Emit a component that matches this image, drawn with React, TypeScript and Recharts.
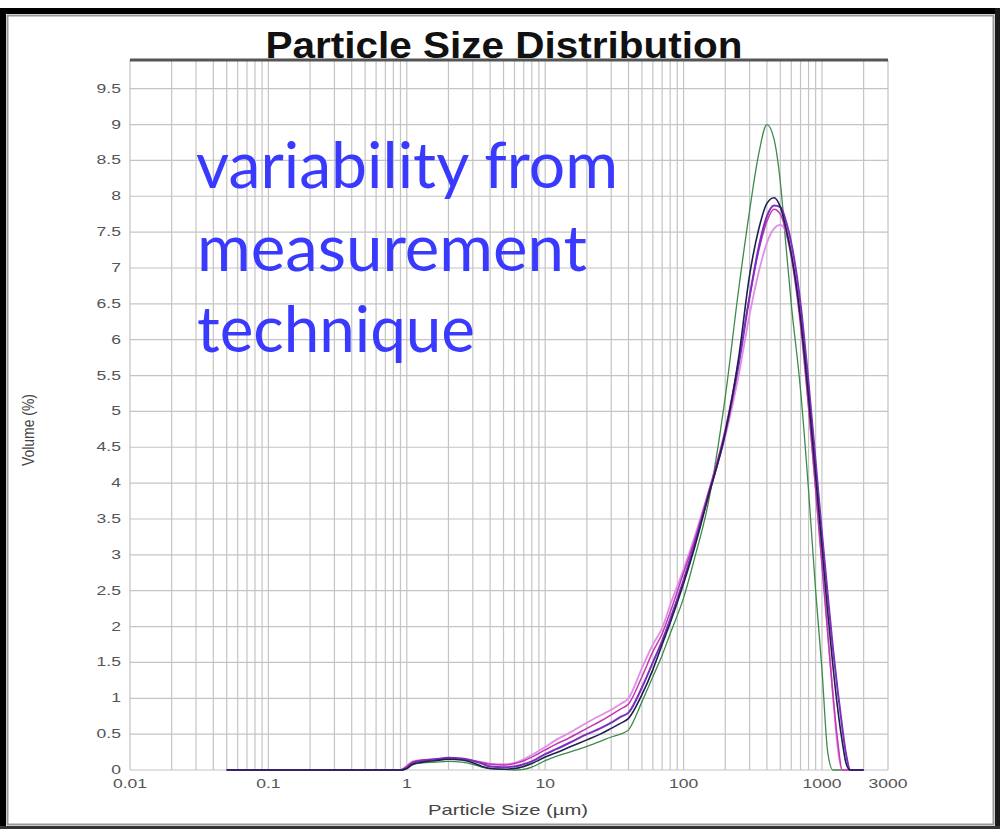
import React from "react";
import { LineChart, Line, XAxis, YAxis, CartesianGrid, ReferenceLine } from "recharts";

// particle size (µm) sample points
const sizes = [
  0.05, 0.1, 0.2, 0.5, 0.9, 1, 1.1, 1.3, 1.6, 2, 2.5, 3, 3.5, 4, 5, 6, 7, 8, 10, 12, 15, 20, 25, 30, 35, 40, 50, 60, 70,
  80, 100, 120, 150, 200, 250, 300, 350, 400, 450, 500, 550, 600, 700, 800, 900, 1000, 1100, 1200, 1300, 1400, 1500, 1600,
  1700, 2000,
];

// volume (%) per run
const runGreen = [
  0, 0, 0, 0, 0, 0.02, 0.07, 0.1, 0.11, 0.12, 0.11, 0.08, 0.04, 0.02, 0.01, 0, 0.01, 0.04, 0.13, 0.19, 0.25, 0.33, 0.4,
  0.46, 0.5, 0.56, 0.95, 1.3, 1.6, 1.9, 2.4, 2.95, 3.7, 5.2, 6.7, 7.8, 8.6, 9.0, 8.8, 8.2, 7.3, 6.5, 5.3, 3.9, 2.5, 1.4,
  0.25, 0, 0, 0, 0, 0, 0, 0,
];
const runPink = [
  0, 0, 0, 0, 0, 0.06, 0.12, 0.14, 0.15, 0.16, 0.15, 0.13, 0.11, 0.09, 0.08, 0.1, 0.15, 0.21, 0.32, 0.42, 0.52, 0.66,
  0.76, 0.84, 0.92, 1.0, 1.42, 1.75, 1.98, 2.3, 2.8, 3.25, 3.85, 4.65, 5.5, 6.35, 6.95, 7.35, 7.55, 7.6, 7.5, 7.2, 6.3,
  5.1, 3.95, 2.9, 1.95, 1.05, 0.3, 0, 0, 0, 0, 0,
];
const runMagenta = [
  0, 0, 0, 0, 0, 0.05, 0.11, 0.14, 0.15, 0.16, 0.15, 0.13, 0.1, 0.08, 0.07, 0.09, 0.13, 0.18, 0.28, 0.36, 0.45, 0.58,
  0.68, 0.77, 0.85, 0.92, 1.3, 1.65, 1.9, 2.2, 2.75, 3.2, 3.85, 4.75, 5.7, 6.6, 7.25, 7.65, 7.82, 7.75, 7.5, 7.15, 6.2,
  5.05, 3.9, 2.85, 1.9, 1.05, 0.4, 0, 0, 0, 0, 0,
];
const runPurple = [
  0, 0, 0, 0, 0, 0.03, 0.1, 0.13, 0.15, 0.17, 0.16, 0.13, 0.09, 0.05, 0.04, 0.05, 0.08, 0.12, 0.22, 0.29, 0.38, 0.5,
  0.58, 0.66, 0.74, 0.8, 1.15, 1.5, 1.8, 2.1, 2.65, 3.15, 3.8, 4.7, 5.65, 6.6, 7.3, 7.72, 7.87, 7.85, 7.65, 7.35, 6.5,
  5.4, 4.3, 3.3, 2.45, 1.7, 1.1, 0.6, 0.2, 0, 0, 0,
];
const runNavy = [
  0, 0, 0, 0, 0, 0.02, 0.08, 0.11, 0.13, 0.15, 0.14, 0.1, 0.05, 0.02, 0.01, 0.02, 0.05, 0.09, 0.18, 0.24, 0.32, 0.42,
  0.5, 0.58, 0.65, 0.72, 1.05, 1.4, 1.75, 2.05, 2.6, 3.1, 3.8, 4.7, 5.75, 6.9, 7.55, 7.9, 7.98, 7.85, 7.55, 7.2, 6.3,
  5.2, 4.1, 3.1, 2.2, 1.45, 0.85, 0.4, 0.08, 0, 0, 0,
];

const xLabels = [0.01, 0.1, 1, 10, 100, 1000, 3000];
const xGrid = [
  0.01, 0.02, 0.03, 0.04, 0.05, 0.06, 0.07, 0.08, 0.09, 0.1, 0.2, 0.3, 0.4, 0.5, 0.6, 0.7, 0.8, 0.9, 1, 2, 3, 4, 5, 6, 7,
  8, 9, 10, 20, 30, 40, 50, 60, 70, 80, 90, 100, 200, 300, 400, 500, 600, 700, 800, 900, 1000, 2000, 3000,
];
const yTicks = [0, 0.5, 1, 1.5, 2, 2.5, 3, 3.5, 4, 4.5, 5, 5.5, 6, 6.5, 7, 7.5, 8, 8.5, 9, 9.5];

const data = sizes.map((size, i) => ({
  size,
  green: runGreen[i],
  pink: runPink[i],
  magenta: runMagenta[i],
  purple: runPurple[i],
  navy: runNavy[i],
}));

const font = "'Liberation Sans', Arial, sans-serif";

const XTick = (props: any) => {
  const { x, y, payload } = props;
  if (!xLabels.includes(payload.value)) return <g />;
  return (
    <g transform={`translate(${x},${y})`}>
      <text x={0} y={0} dy={10} textAnchor="middle" fontSize={13} fill="#555" fontFamily={font} transform="scale(1.35,1)">
        {payload.value}
      </text>
    </g>
  );
};

const YTick = (props: any) => {
  const { x, y, payload } = props;
  return (
    <g transform={`translate(${x - 1},${y})`}>
      <text x={0} y={0} dy={4} textAnchor="end" fontSize={13} fill="#555" fontFamily={font} transform="scale(1.35,1)">
        {payload.value}
      </text>
    </g>
  );
};

export default function App() {
  return (
    <div style={{ position: "fixed", left: 0, top: 0, width: 1000, height: 829, background: "#fff", overflow: "hidden" }}>
      <div style={{ position: "absolute", left: 0, top: 0 }}>
        <LineChart width={1000} height={829} data={data} margin={{ top: 60, right: 112, bottom: 29, left: 70 }}>
          <CartesianGrid stroke="#c4c4c4" strokeWidth={1.2} />
          <XAxis
            dataKey="size"
            type="number"
            scale="log"
            domain={[0.01, 3000]}
            allowDataOverflow
            ticks={xGrid}
            interval={0}
            tick={<XTick />}
            tickLine={false}
            axisLine={false}
            height={30}
          />
          <YAxis
            type="number"
            domain={[0, 9.9]}
            ticks={yTicks}
            interval={0}
            tick={<YTick />}
            tickLine={false}
            axisLine={false}
            width={60}
          />
          <ReferenceLine y={9.9} stroke="#555" strokeWidth={3} />
          <Line dataKey="green" stroke="#3d8b4a" strokeWidth={1.3} dot={false} type="monotone" isAnimationActive={false} />
          <Line dataKey="pink" stroke="#e38ce8" strokeWidth={1.8} dot={false} type="monotone" isAnimationActive={false} />
          <Line dataKey="magenta" stroke="#c238b0" strokeWidth={1.5} dot={false} type="monotone" isAnimationActive={false} />
          <Line dataKey="purple" stroke="#7b2fbe" strokeWidth={2} dot={false} type="monotone" isAnimationActive={false} />
          <Line dataKey="navy" stroke="#1f1f50" strokeWidth={1.6} dot={false} type="monotone" isAnimationActive={false} />
        </LineChart>
      </div>
      <svg width={1000} height={829} style={{ position: "absolute", left: 0, top: 0, pointerEvents: "none" }}>
        {/* picture frame */}
        <rect x={0} y={8} width={1000} height={6} fill="#000" />
        <rect x={0} y={8} width={6} height={821} fill="#000" />
        <rect x={995} y={8} width={5} height={821} fill="#1a1a1a" />
        <rect x={0} y={826} width={1000} height={3} fill="#333" />
        <rect x={7.5} y={15.5} width={986} height={809} fill="none" stroke="#999" strokeWidth={2} />
        <text
          x={504}
          y={58}
          textAnchor="middle"
          fontSize={36}
          fontWeight="bold"
          fontFamily={font}
          fill="#111"
          textLength={477}
          lengthAdjust="spacingAndGlyphs"
        >
          Particle Size Distribution
        </text>
        <text
          x={34}
          y={430}
          transform="rotate(-90, 34, 430)"
          textAnchor="middle"
          fontSize={16}
          fontFamily={font}
          fill="#444"
          textLength={72}
          lengthAdjust="spacingAndGlyphs"
        >
          Volume (%)
        </text>
        <text
          x={508}
          y={815}
          textAnchor="middle"
          fontSize={15}
          fontFamily={font}
          fill="#444"
          textLength={160}
          lengthAdjust="spacingAndGlyphs"
        >
          Particle Size (µm)
        </text>
        <g fontFamily="Lato, 'Open Sans', sans-serif" fontSize={63} fill="#3a3aff">
          <text x={196} y={188} textLength={422} lengthAdjust="spacingAndGlyphs">
            variability from
          </text>
          <text x={197} y={271} textLength={390} lengthAdjust="spacingAndGlyphs">
            measurement
          </text>
          <text x={197} y={352} textLength={278} lengthAdjust="spacingAndGlyphs">
            technique
          </text>
        </g>
      </svg>
    </div>
  );
}
